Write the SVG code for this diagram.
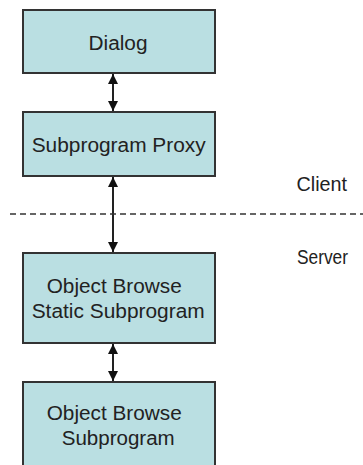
<svg xmlns="http://www.w3.org/2000/svg" width="363" height="465" viewBox="0 0 363 465">
<style>
.box{fill:#BADFE2;stroke:#333;stroke-width:2}
.t{font-family:"Liberation Sans",Arial,sans-serif;font-size:20px;fill:#222}
.con{stroke:#222;stroke-width:2;fill:none;marker-start:url(#ah);marker-end:url(#ah)}
</style>
<defs>
<marker id="ah" viewBox="0 0 10 10" refX="10" refY="5" markerWidth="11" markerHeight="10" markerUnits="userSpaceOnUse" orient="auto-start-reverse">
<path d="M0,0 L10,5 L0,10 z" fill="#111"/>
</marker>
</defs>
<rect width="363" height="465" fill="#fff"/>
<g id="dialog">
<rect class="box" x="23" y="10" width="192" height="63"/>
<text class="t" x="88.5" y="49.5" textLength="59" lengthAdjust="spacingAndGlyphs">Dialog</text>
</g>
<g id="proxy">
<rect class="box" x="23" y="112" width="192" height="64"/>
<text class="t" x="31.7" y="151.7" textLength="174" lengthAdjust="spacingAndGlyphs">Subprogram Proxy</text>
</g>
<g id="static">
<rect class="box" x="23" y="253" width="192" height="90"/>
<text class="t" x="46.7" y="292.7" textLength="135" lengthAdjust="spacingAndGlyphs">Object Browse</text>
<text class="t" x="31.7" y="318" textLength="173" lengthAdjust="spacingAndGlyphs">Static Subprogram</text>
</g>
<g id="browse">
<rect class="box" x="23" y="382" width="192" height="100"/>
<text class="t" x="46.7" y="420" textLength="135" lengthAdjust="spacingAndGlyphs">Object Browse</text>
<text class="t" x="61.7" y="445" textLength="113" lengthAdjust="spacingAndGlyphs">Subprogram</text>
</g>
<g id="connectors">
<line class="con" x1="113" y1="74" x2="113" y2="111"/>
<line class="con" x1="113" y1="177" x2="113" y2="252"/>
<line class="con" x1="113" y1="344" x2="113" y2="381"/>
</g>
<g id="boundary">
<line x1="10" y1="214" x2="363" y2="214" stroke="#333" stroke-width="1.5" stroke-dasharray="6 4"/>
<text class="t" x="296.5" y="191" textLength="50.5" lengthAdjust="spacingAndGlyphs">Client</text>
<text class="t" x="297" y="264" textLength="51" lengthAdjust="spacingAndGlyphs">Server</text>
</g>
</svg>
